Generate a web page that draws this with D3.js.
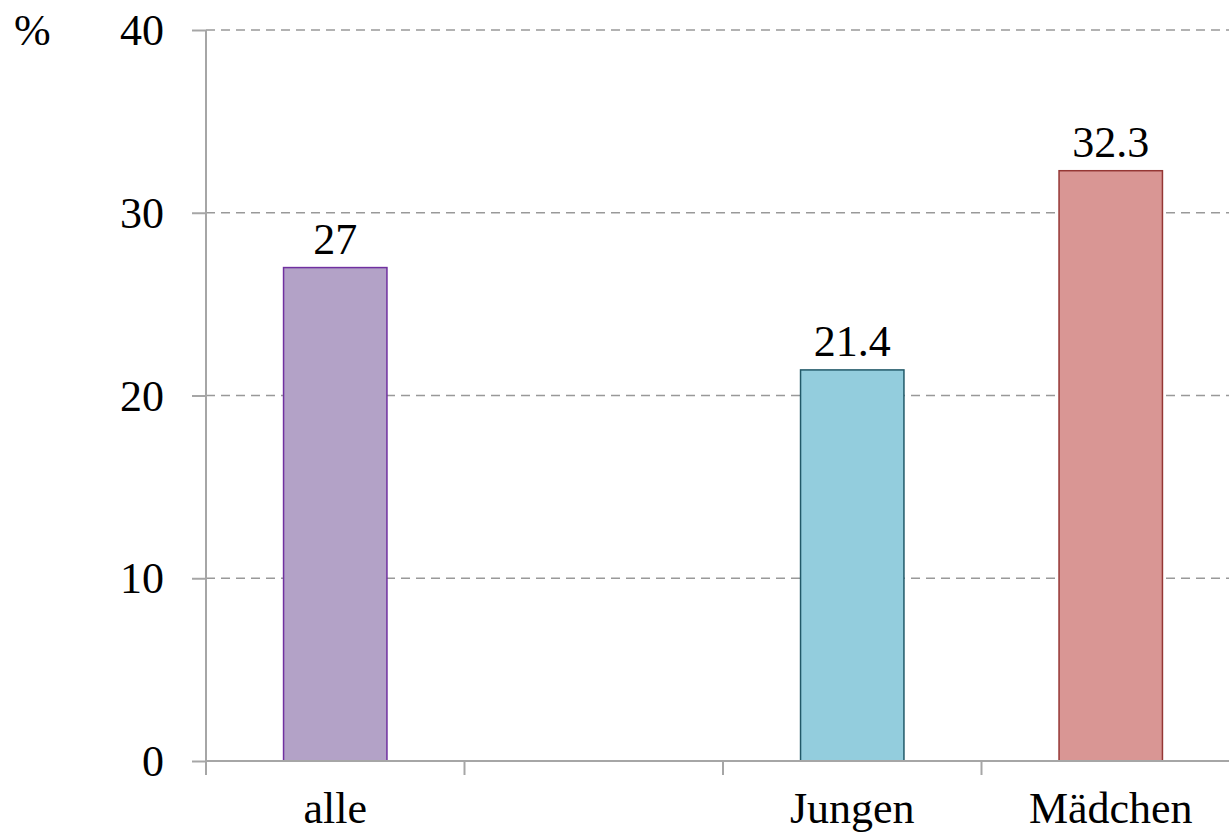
<!DOCTYPE html>
<html>
<head>
<meta charset="utf-8">
<script src="https://cdn.jsdelivr.net/npm/d3@7"></script>
<style>
  body { margin: 0; background: #fff; }
  svg { display: block; }
  text { font-family: "Liberation Serif", "Times New Roman", serif; fill: #000; }
</style>
</head>
<body>
<div id="chart"></div>
<script>
// data
var categories = ["alle", "", "Jungen", "Mädchen"];
var values = [27, null, 21.4, 32.3];
var fills = ["#b3a2c7", null, "#93cddd", "#d99694"];
var strokes = ["#7030a0", null, "#215968", "#953735"];
var yTicks = [0, 10, 20, 30, 40];

var width = 1229, height = 832;
var mLeft = 206, mRight = 1240, mTop = 30, mBottom = 761;

var svg = d3.select("#chart").append("svg")
    .attr("width", width)
    .attr("height", height);

var x = d3.scaleBand()
    .domain(d3.range(categories.length))
    .range([mLeft, mRight])
    .paddingInner(0)
    .paddingOuter(0);

var y = d3.scaleLinear()
    .domain([0, 40])
    .range([mBottom, mTop]);

var barW = x.bandwidth() * 0.4;

// gridlines
svg.append("g").selectAll("line")
    .data(yTicks.filter(function (d) { return d > 0; }))
    .enter().append("line")
    .attr("x1", mLeft).attr("x2", mRight)
    .attr("y1", function (d) { return y(d); })
    .attr("y2", function (d) { return y(d); })
    .attr("stroke", "#999")
    .attr("stroke-width", 1.5)
    .attr("stroke-dasharray", "9,6");

// y axis
var yAxis = svg.append("g")
    .attr("transform", "translate(" + mLeft + ",0)")
    .call(d3.axisLeft(y).tickValues(yTicks).tickSize(14).tickPadding(28));
yAxis.select(".domain").attr("stroke", "#a6a6a6").attr("stroke-width", 2)
    .attr("d", "M0," + mTop + "V" + mBottom);
yAxis.selectAll(".tick line").attr("stroke", "#a6a6a6").attr("stroke-width", 2);
yAxis.selectAll(".tick text")
    .style("font-family", "'Liberation Serif', 'Times New Roman', serif")
    .style("font-size", "44px")
    .attr("fill", "#000")
    .attr("dy", "0.33em");

// bars
var barData = values.map(function (v, i) { return { v: v, i: i }; })
    .filter(function (d) { return d.v != null; });

svg.append("g").selectAll("rect")
    .data(barData)
    .enter().append("rect")
    .attr("x", function (d) { return x(d.i) + (x.bandwidth() - barW) / 2; })
    .attr("y", function (d) { return y(d.v); })
    .attr("width", barW)
    .attr("height", function (d) { return y(0) - y(d.v); })
    .attr("fill", function (d) { return fills[d.i]; })
    .attr("stroke", function (d) { return strokes[d.i]; })
    .attr("stroke-width", 1.5);

// value labels
svg.append("g").selectAll("text")
    .data(barData)
    .enter().append("text")
    .attr("x", function (d) { return x(d.i) + x.bandwidth() / 2; })
    .attr("y", function (d) { return y(d.v) - 14; })
    .attr("text-anchor", "middle")
    .style("font-size", "44px")
    .text(function (d) { return d.v; });

// x axis
var xAxis = svg.append("g")
    .attr("transform", "translate(0," + mBottom + ")");
xAxis.append("line")
    .attr("x1", mLeft).attr("x2", mRight)
    .attr("stroke", "#a6a6a6").attr("stroke-width", 2);
xAxis.selectAll(".xt")
    .data(d3.range(categories.length + 1))
    .enter().append("line")
    .attr("class", "xt")
    .attr("x1", function (i) { return mLeft + i * x.step(); })
    .attr("x2", function (i) { return mLeft + i * x.step(); })
    .attr("y1", 0).attr("y2", 14)
    .attr("stroke", "#a6a6a6").attr("stroke-width", 2);
xAxis.selectAll("text")
    .data(categories)
    .enter().append("text")
    .attr("x", function (d, i) { return x(i) + x.bandwidth() / 2; })
    .attr("y", 62)
    .attr("text-anchor", "middle")
    .style("font-size", "44px")
    .text(function (d) { return d; });

// unit label
svg.append("text")
    .attr("x", 14)
    .attr("y", y(40))
    .attr("dy", "0.33em")
    .style("font-size", "44px")
    .text("%");
</script>
</body>
</html>
